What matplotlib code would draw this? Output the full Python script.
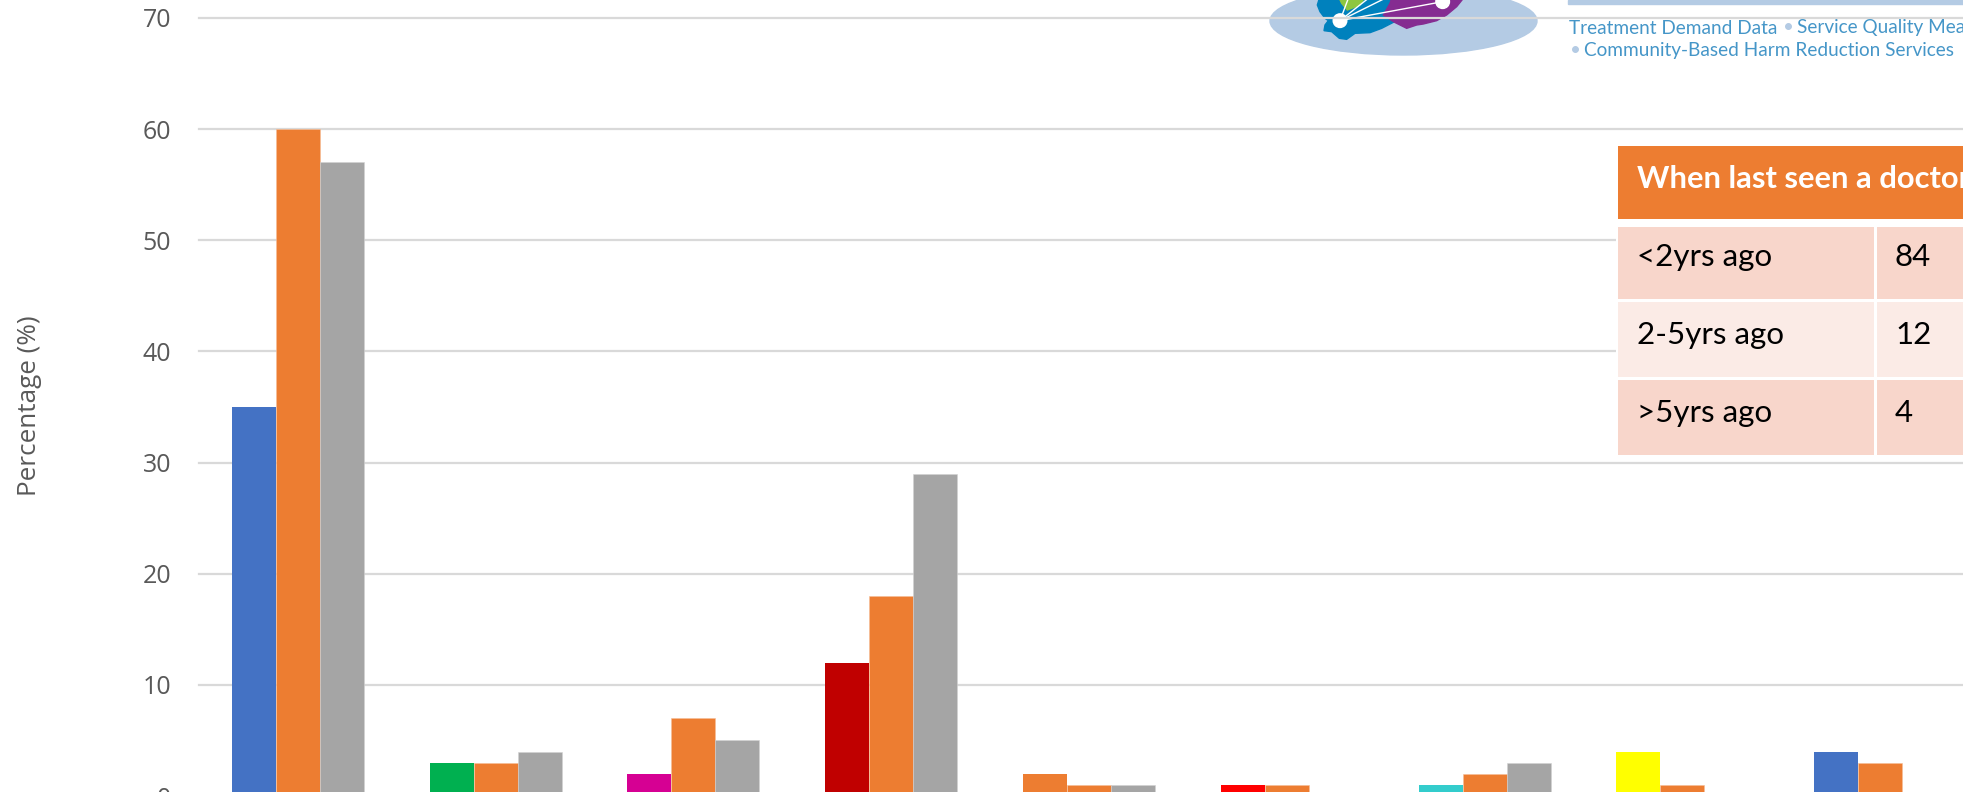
import matplotlib
matplotlib.use('Agg')
from matplotlib import pyplot as plt
from matplotlib.patches import Ellipse, Polygon, Circle, Rectangle
from matplotlib.transforms import Affine2D

W, H = 1963, 792

## Values
groups = [0, 1, 2, 3, 4, 5, 6, 7, 8]
series_1 = [35, 3, 2, 12, 2, 1, 1, 4, 4]
series_2 = [60, 3, 7, 18, 1, 1, 2, 1, 3]
series_3 = [57, 4, 5, 29, 1, 0, 3, 0, 0]
series_1_colors = ['#4472C4', '#00B050', '#D60093', '#C00000', '#ED7D31',
                   '#FF0000', '#33CCCC', '#FFFF00', '#4472C4']
y_ticks = [0, 10, 20, 30, 40, 50, 60, 70]

table_title = 'When last seen a doctor'
table_rows = ['<2yrs ago', '2-5yrs ago', '>5yrs ago']
table_values = ['84', '12', '4']

fig = plt.figure(figsize=(W / 100, H / 100), dpi=100, facecolor='white')
## pixel coordinates of the picture, y going down
px = Affine2D().scale(1 / W, -1 / H).translate(0, 1) + fig.transFigure

## axes run past the picture on the right and at the bottom
left, right, y70, y0 = 199, 1979, 17.9, 796
ax = fig.add_axes([left / W, (H - y0) / H, (right - left) / W, (y0 - y70) / H])
ax.patch.set_alpha(0)

bar_w = 0.2225
ax.bar([g - bar_w for g in groups], series_1, bar_w, color=series_1_colors, zorder=3)
ax.bar(groups, series_2, bar_w, color='#ED7D31', edgecolor='#F6BE98', linewidth=0.4, zorder=3)
ax.bar([g + bar_w for g in groups], series_3, bar_w, color='#A5A5A5', edgecolor='#D2D2D2', linewidth=0.4, zorder=3)

ax.set_xlim(-0.5, 8.5)
ax.set_ylim(0, 70)
ax.set_yticks(y_ticks)
ax.set_xticks([])
ax.tick_params(axis='y', length=0, pad=20, labelsize=18, labelcolor='#595959')
for lab in ax.get_yticklabels():
    lab.set_fontfamily('Open Sans')
ax.grid(axis='y', color='#D9D9D9', linewidth=1.6, zorder=1)
ax.set_axisbelow(True)
for s in ax.spines.values():
    s.set_visible(False)
for line in ax.get_ygridlines():
    line.set_clip_on(False)

fig.text(30 / W, 1 - 406 / H, 'Percentage (%)', rotation=90, ha='center', va='center',
         fontsize=18.8, color='#595959', family='Open Sans')

## logo, sits under the gridlines
def zoomed(pts):
    return [(1260 + x / 3, y / 3) for x, y in pts]

logo = [
    Ellipse((1403.5, 21), 267, 68, color='#B4CBE4'),
    Polygon(zoomed([(178, -5), (172, 15), (180, 35), (195, 55), (205, 62), (195, 75), (192, 92), (215, 95),
                    (238, 115), (260, 118), (285, 100), (330, 98), (365, 85), (402, 66), (370, 45),
                    (390, 10), (395, -5)]), color='#0081BD'),
    Polygon(zoomed([(395, -5), (390, 10), (370, 45), (402, 66), (440, 85), (470, 75), (490, 72), (530, 62),
                    (560, 45), (590, 20), (610, -5)]), color='#852C91'),
    Polygon(zoomed([(238, -5), (245, 10), (262, 30), (300, 15), (312, -5)]), color='#8DC63F'),
]
for p in logo:
    p.set_transform(px)
    p.set_zorder(-2)
    fig.add_artist(p)
for end in [(265, -5), (325, -5), (375, -5), (548, 5)]:
    xs, ys = zip(*zoomed([(240, 62), end]))
    fig.add_artist(plt.Line2D(xs, ys, color='white', lw=1.0, transform=px, zorder=-1))
for c in zoomed([(240, 62), (548, 5)]):
    fig.add_artist(Circle(c, 6.8, color='white', transform=px, zorder=-1))

fig.add_artist(Rectangle((1568, 0), 400, 3.5, color='#B4CBE4', transform=px, zorder=-1))
logo_text = dict(fontsize=13.7, family='Lato', va='center', ha='left')
fig.text(1569 / W, 1 - 28 / H, 'Treatment Demand Data', color='#4596C8', **logo_text)
fig.text(1783 / W, 1 - 28 / H, '\u2022', color='#B4CBE4', **logo_text)
fig.text(1797 / W, 1 - 28 / H, 'Service Quality Measures', color='#4596C8', **logo_text)
fig.text(1570 / W, 1 - 50.5 / H, '\u2022', color='#B4CBE4', **logo_text)
fig.text(1584 / W, 1 - 50.5 / H, 'Community-Based Harm Reduction Services', color='#4596C8', **logo_text)

## table on a white ground, hides the gridlines behind it
def cell(x0, y0_, x1, y1, color, z=5):
    fig.add_artist(Rectangle((x0, y0_), x1 - x0, y1 - y0_, color=color, lw=0, transform=px, zorder=z))

cell(1616, 140, 1970, 458, 'white', 4)
cell(1618, 146, 1970, 219, '#ED7D31')
fig.text(1637 / W, 1 - 179 / H, table_title, fontsize=22.2, fontweight='bold', color='white',
         family='Lato', va='center', ha='left', zorder=6)
row_tops = [227, 302, 380]
row_bottoms = [299, 377, 455]
row_text_y = [257, 335, 413]
row_colors = ['#F8D6CB', '#FBEBE6', '#F8D6CB']
for name, val, top, bottom, ty, col in zip(table_rows, table_values, row_tops, row_bottoms, row_text_y, row_colors):
    cell(1618, top, 1874, bottom, col)
    cell(1877, top, 1970, bottom, col)
    fig.text(1637 / W, 1 - ty / H, name, fontsize=22.5, color='black', family='Lato',
             va='center', ha='left', zorder=6)
    fig.text(1895 / W, 1 - ty / H, val, fontsize=22.5, color='black', family='Lato',
             va='center', ha='left', zorder=6)

fig.savefig('out.png', dpi=100)
